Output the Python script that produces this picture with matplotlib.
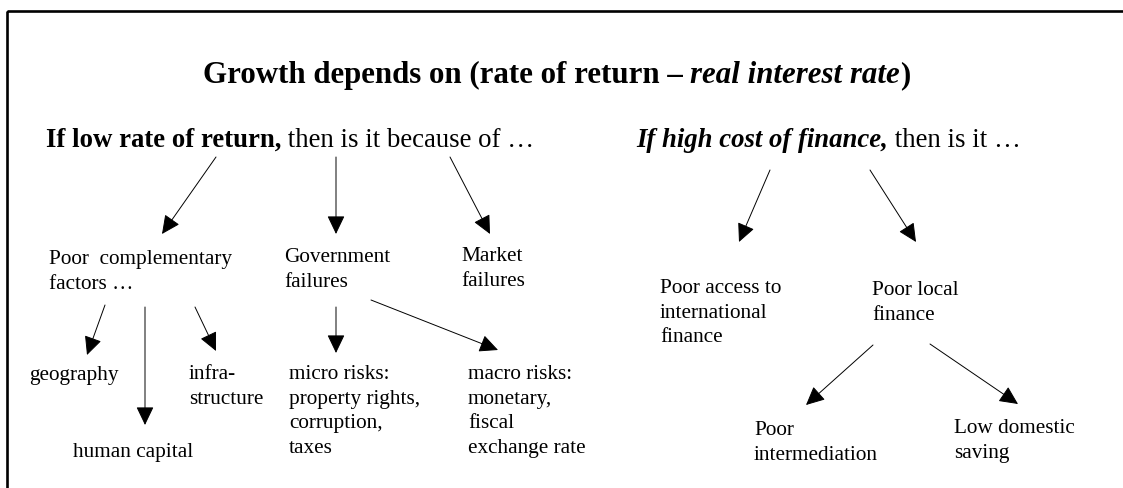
import matplotlib
matplotlib.use('Agg')
from matplotlib import pyplot as plt
from matplotlib.patches import Rectangle

plt.rcParams['font.family'] = ['Liberation Serif', 'DejaVu Serif']

W, H = 1123, 488
BODY = 15.3

# node labels and where they sit (pixel coords, left / top of text)
labels = [
    'Poor  complementary\nfactors \u2026', 'Government\nfailures', 'Market\nfailures',
    'geography', 'infra-\nstructure', 'human capital',
    'micro risks:\nproperty rights,\ncorruption,\ntaxes',
    'macro risks:\nmonetary,\nfiscal\nexchange rate',
    'Poor access to\ninternational\nfinance', 'Poor local\nfinance',
    'Poor\nintermediation', 'Low domestic\nsaving',
]
label_x = [49, 284, 461, 29, 189, 73, 289, 468, 660, 872, 754, 954]
label_y = [250, 248, 247, 366, 365, 443, 365, 365, 279, 281, 421, 419]

# arrows: (x0, y0) -> (x1, y1)
arrows = [
    ((216, 157), (162, 234)), ((336, 157), (336, 234)), ((450, 157), (490, 234)),
    ((770, 170), (739, 242)), ((870, 170), (916, 242)),
    ((105, 305), (87, 355)), ((145, 307), (145, 425)), ((195, 307), (216, 351)),
    ((336, 307), (336, 353)), ((371, 300), (498, 350)),
    ((873, 345), (806, 405)), ((930, 344), (1018, 404)),
]

fig = plt.figure(figsize=(W / 100, H / 100), dpi=100)
ax = fig.add_axes([0, 0, 1, 1])
ax.set_xlim(0, W)
ax.set_ylim(H, 0)
ax.axis('off')

# frame (only left and top edges visible in the crop)
ax.add_patch(Rectangle((7, 11), W + 20, H + 20, fill=False, lw=1.9, ec='black'))


def chain(parts, x, y, size):
    # draw text pieces one after another on the same baseline
    prev = None
    for txt, weight, style in parts:
        if prev is None:
            prev = ax.text(x, y, txt, fontsize=size, fontweight=weight,
                           fontstyle=style, va='baseline', ha='left')
        else:
            prev = ax.annotate(txt, xy=(1, y), xycoords=(prev, 'data'),
                               fontsize=size, fontweight=weight, fontstyle=style,
                               va='baseline', ha='left')


chain([('Growth depends on (rate of return \u2013 ', 'bold', 'normal'),
       ('real interest rate', 'bold', 'italic'),
       (')', 'bold', 'normal')], 203, 83, 22.2)
chain([('If low rate of return,', 'bold', 'normal'),
       (' then is it because of \u2026', 'normal', 'normal')], 46, 147, 19.25)
chain([('If high cost of finance,', 'bold', 'italic'),
       (' then is it \u2026', 'normal', 'normal')], 636, 147, 19.25)

for s, x, y in zip(labels, label_x, label_y):
    ax.text(x, y, s, fontsize=BODY, va='top', ha='left', linespacing=1.4)

for (x0, y0), (x1, y1) in arrows:
    ax.annotate('', xy=(x1, y1), xytext=(x0, y0),
                arrowprops=dict(arrowstyle='-|>,head_length=1.15,head_width=0.55',
                                lw=0.7, color='black', shrinkA=0, shrinkB=0,
                                mutation_scale=10))

fig.savefig('out.png', dpi=100)
